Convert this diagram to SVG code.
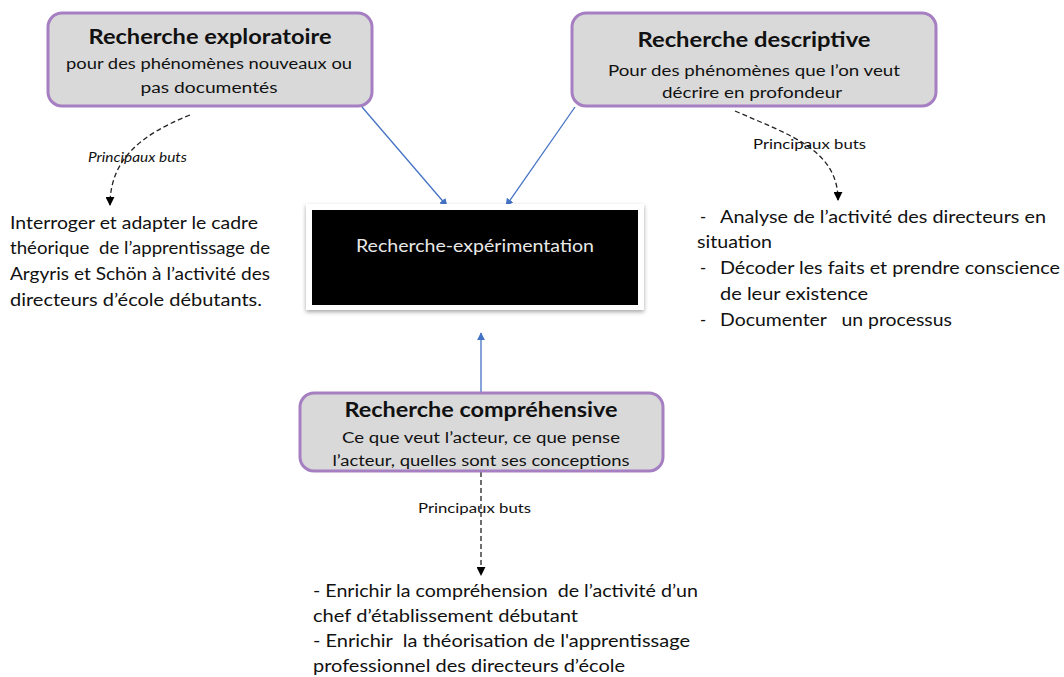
<svg xmlns="http://www.w3.org/2000/svg" width="1064" height="677" viewBox="0 0 1064 677" xml:space="preserve">
  <defs>
    <marker id="blueHead" viewBox="0 0 10 10" refX="9" refY="5" markerWidth="8" markerHeight="8" markerUnits="userSpaceOnUse" orient="auto">
      <path d="M0,0 L10,5 L0,10 z" fill="#4472c4"/>
    </marker>
    <marker id="blackHead" viewBox="0 0 10 10" refX="9" refY="5" markerWidth="9" markerHeight="9" markerUnits="userSpaceOnUse" orient="auto">
      <path d="M0,0 L10,5 L0,10 z" fill="#000"/>
    </marker>
    <filter id="shadow" x="-10%" y="-10%" width="120%" height="130%">
      <feDropShadow dx="0" dy="2" stdDeviation="2" flood-color="#000" flood-opacity="0.35"/>
    </filter>
  </defs>
  <style>
    text { font-family: Lato, "Open Sans", "Liberation Sans", sans-serif; fill: #111; white-space: pre; }
    .box { fill: #d9d9d9; stroke: #a57fc2; stroke-width: 3; }
    .title { font-size: 20px; font-weight: bold; text-anchor: middle; }
    .sub { font-size: 15.5px; text-anchor: middle; }
    .body { font-size: 16.5px; }
    .lbl { font-size: 12.5px; }
    .blue { stroke: #4472c4; stroke-width: 1.3; fill: none; marker-end: url(#blueHead); }
    .dash { stroke: #222; stroke-width: 1.3; stroke-dasharray: 5 3; fill: none; marker-end: url(#blackHead); }
  </style>

  <rect width="1064" height="677" fill="#fff"/>

  <!-- connectors -->
  <g id="connectors">
    <line class="blue" x1="362" y1="107" x2="447" y2="206"/>
    <line class="blue" x1="575" y1="107" x2="506" y2="206"/>
    <line class="blue" x1="481" y1="392" x2="481" y2="333"/>
    <path class="dash" d="M190,115 C140,135 110,160 110,205"/>
    <path class="dash" d="M735,111 C790,135 838,150 838,200"/>
    <line class="dash" x1="481" y1="472" x2="481" y2="575"/>
    <text class="lbl" x="88" y="162" font-style="italic" textLength="99" lengthAdjust="spacingAndGlyphs">Principaux buts</text>
    <text class="lbl" x="753" y="149" textLength="113" lengthAdjust="spacingAndGlyphs">Principaux buts</text>
    <text class="lbl" x="418" y="513" textLength="113" lengthAdjust="spacingAndGlyphs">Principaux buts</text>
  </g>

  <!-- exploratory research -->
  <g id="node-exploratoire">
    <rect class="box" x="48" y="13" width="324" height="93" rx="14"/>
    <text class="title" x="210" y="44" textLength="243" lengthAdjust="spacingAndGlyphs">Recherche exploratoire</text>
    <text class="sub" x="209" y="69" textLength="286" lengthAdjust="spacingAndGlyphs">pour des phénomènes nouveaux ou</text>
    <text class="sub" x="209" y="93" textLength="137" lengthAdjust="spacingAndGlyphs">pas documentés</text>
  </g>

  <!-- descriptive research -->
  <g id="node-descriptive">
    <rect class="box" x="572" y="13" width="364" height="93" rx="14"/>
    <text class="title" x="754" y="47" textLength="233" lengthAdjust="spacingAndGlyphs">Recherche descriptive</text>
    <text class="sub" x="754" y="76" textLength="292" lengthAdjust="spacingAndGlyphs">Pour des phénomènes que l’on veut</text>
    <text class="sub" x="752" y="98" textLength="180" lengthAdjust="spacingAndGlyphs">décrire en profondeur</text>
  </g>

  <!-- central node -->
  <g id="node-experimentation">
    <rect x="306" y="204" width="338" height="106" fill="#fff" filter="url(#shadow)"/>
    <rect x="312" y="210" width="326" height="95" fill="#000"/>
    <text x="475" y="252" font-size="16.5" text-anchor="middle" style="fill:#e8e8e8" textLength="238" lengthAdjust="spacingAndGlyphs">Recherche-expérimentation</text>
  </g>

  <!-- comprehensive research -->
  <g id="node-comprehensive">
    <rect class="box" x="300" y="393" width="363" height="78" rx="14"/>
    <text class="title" x="481" y="417" textLength="273" lengthAdjust="spacingAndGlyphs">Recherche compréhensive</text>
    <text class="sub" x="481" y="443" textLength="278" lengthAdjust="spacingAndGlyphs">Ce que veut l’acteur, ce que pense</text>
    <text class="sub" x="481" y="466" textLength="297" lengthAdjust="spacingAndGlyphs">l’acteur, quelles sont ses conceptions</text>
  </g>

  <!-- goals of exploratory research -->
  <g id="goals-exploratoire">
    <text class="body" x="10" y="229" textLength="248" lengthAdjust="spacingAndGlyphs">Interroger et adapter le cadre</text>
    <text class="body" x="10" y="254" textLength="260" lengthAdjust="spacingAndGlyphs">théorique  de l’apprentissage de</text>
    <text class="body" x="10" y="280" textLength="260" lengthAdjust="spacingAndGlyphs">Argyris et Schön à l’activité des</text>
    <text class="body" x="10" y="306" textLength="252" lengthAdjust="spacingAndGlyphs">directeurs d’école débutants.</text>
  </g>

  <!-- goals of descriptive research -->
  <g id="goals-descriptive">
    <text class="body" x="700" y="223">-</text>
    <text class="body" x="720" y="223" textLength="326" lengthAdjust="spacingAndGlyphs">Analyse de l’activité des directeurs en</text>
    <text class="body" x="697" y="248" textLength="75" lengthAdjust="spacingAndGlyphs">situation</text>
    <text class="body" x="700" y="274">-</text>
    <text class="body" x="720" y="274" textLength="340" lengthAdjust="spacingAndGlyphs">Décoder les faits et prendre conscience</text>
    <text class="body" x="720" y="300" textLength="148" lengthAdjust="spacingAndGlyphs">de leur existence</text>
    <text class="body" x="700" y="326">-</text>
    <text class="body" x="720" y="326" textLength="232" lengthAdjust="spacingAndGlyphs">Documenter   un processus</text>
  </g>

  <!-- goals of comprehensive research -->
  <g id="goals-comprehensive">
    <text class="body" x="313" y="597" textLength="385" lengthAdjust="spacingAndGlyphs">- Enrichir la compréhension  de l’activité d’un</text>
    <text class="body" x="313" y="622" textLength="265" lengthAdjust="spacingAndGlyphs">chef d’établissement débutant</text>
    <text class="body" x="313" y="647" textLength="377" lengthAdjust="spacingAndGlyphs">- Enrichir  la théorisation de l'apprentissage</text>
    <text class="body" x="313" y="672" textLength="312" lengthAdjust="spacingAndGlyphs">professionnel des directeurs d’école</text>
  </g>
</svg>
